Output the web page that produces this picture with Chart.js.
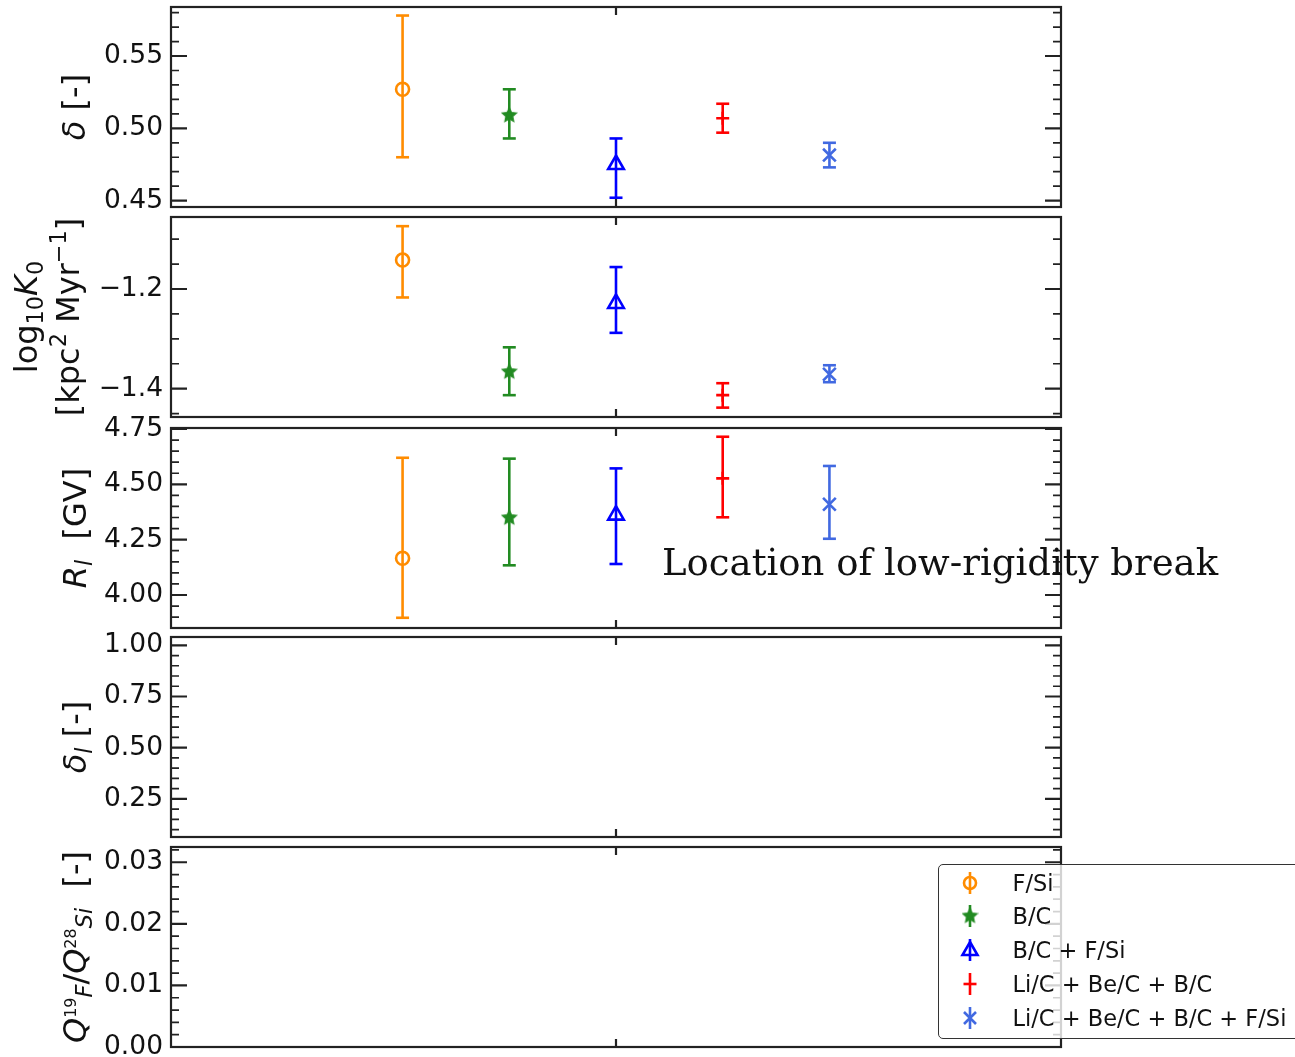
<!DOCTYPE html>
<html>
<head>
<meta charset="utf-8">
<title>Propagation parameters</title>
<script src="https://cdn.jsdelivr.net/npm/chart.js@4.4.1/dist/chart.umd.min.js"></script>
<style>
  html, body { margin: 0; padding: 0; background: #fff; }
  #wrap { position: relative; width: 1295px; height: 1057px; overflow: hidden; }
  #wrap canvas.panel { position: absolute; left: 0; }
  #note { position: absolute; left: 662px; top: 544px; font: 37px/37px 'DejaVu Serif'; color: #111; white-space: nowrap; }
  #legend { position: absolute; left: 938px; top: 864px; width: 420px; height: 175px; box-sizing: border-box;
            border: 1.5px solid #333; border-radius: 5px; background: rgba(255,255,255,0.8); }
  .lg-row { position: absolute; left: 0; height: 30px; width: 400px; }
  .lg-row canvas { position: absolute; top: 0; }
  .lg-row span { position: absolute; top: 0; font: 22.5px/30px 'DejaVu Sans'; white-space: nowrap; color: #111; }
</style>
</head>
<body>
<div id="wrap">
  <canvas class="panel" id="deltaChart" width="1295" height="248"></canvas>
  <canvas class="panel" id="k0Chart" width="1295" height="248"></canvas>
  <canvas class="panel" id="rBreakChart" width="1295" height="248"></canvas>
  <canvas class="panel" id="deltaLowChart" width="1295" height="248"></canvas>
  <canvas class="panel" id="qRatioChart" width="1295" height="248"></canvas>
  <div id="note">Location of low-rigidity break</div>
  <div id="legend"></div>
</div>
<script>
// 資料集名稱與顏色
const seriesNames = ['F/Si', 'B/C', 'B/C + F/Si', 'Li/C + Be/C + B/C', 'Li/C + Be/C + B/C + F/Si'];
const seriesColors = ['darkorange', 'forestgreen', 'blue', 'red', 'royalblue'];
const xPos = [0, 1, 2, 3, 4];
const xTicks = [2];

// delta
const delta = [0.527, 0.509, 0.475, 0.507, 0.4815];
const deltaLo = [0.480, 0.493, 0.452, 0.497, 0.473];
const deltaHi = [0.578, 0.527, 0.493, 0.517, 0.490];
const deltaTicks = [0.45, 0.50, 0.55];

// log10 K0
const logK0 = [-1.142, -1.366, -1.229, -1.413, -1.371];
const logK0Lo = [-1.217, -1.413, -1.288, -1.438, -1.387];
const logK0Hi = [-1.074, -1.317, -1.156, -1.389, -1.353];
const logK0Ticks = [-1.4, -1.2];

// R_l
const rBreak = [4.166, 4.349, 4.361, 4.527, 4.410];
const rBreakLo = [3.897, 4.134, 4.140, 4.351, 4.254];
const rBreakHi = [4.620, 4.616, 4.572, 4.715, 4.583];
const rBreakTicks = [4.00, 4.25, 4.50, 4.75];

// delta_l 與 Q 比值 (無資料點)
const deltaLowTicks = [0.25, 0.50, 0.75, 1.00];
const qRatioTicks = [0.00, 0.01, 0.02, 0.03];

const TICK_FONT = 26.5;
const TITLE_FONT = 32;
const LINE_W = 2.6;

// 星形標記
function makeStar(color, r) {
    const c = document.createElement('canvas');
    const s = Math.ceil(r * 2 + 2);
    c.width = c.height = s;
    const g = c.getContext('2d');
    g.fillStyle = color;
    g.strokeStyle = color;
    g.lineWidth = 1.2;
    g.beginPath();
    for (let k = 0; k < 10; k++) {
        const a = -Math.PI / 2 + k * Math.PI / 5;
        const rr = k % 2 ? r * 0.48 : r;
        g.lineTo(s / 2 + rr * Math.cos(a), s / 2 + rr * Math.sin(a));
    }
    g.closePath();
    g.fill();
    g.stroke();
    return c;
}
const starImg = makeStar('forestgreen', 7.5);

const markerStyles = ['circle', starImg, 'triangle', 'cross', 'crossRot'];
const markerRadii = [6.5, 7, 9, 6.5, 9];

// 外框與內向刻度
const frameTicks = {
    id: 'frameTicks',
    afterDatasetsDraw(chart, args, opts) {
        const { ctx, chartArea: a, scales: { x, y } } = chart;
        const inside = (py) => py >= a.top - 0.5 && py <= a.bottom + 0.5;
        ctx.save();
        ctx.strokeStyle = '#222';
        ctx.lineWidth = 1.7;
        ctx.beginPath();
        opts.minor.forEach(v => {
            const py = y.getPixelForValue(v);
            if (!inside(py)) return;
            ctx.moveTo(a.left, py); ctx.lineTo(a.left + 8, py);
            ctx.moveTo(a.right, py); ctx.lineTo(a.right - 8, py);
        });
        ctx.stroke();
        ctx.lineWidth = 2.2;
        ctx.beginPath();
        opts.major.forEach(v => {
            const py = y.getPixelForValue(v);
            if (!inside(py)) return;
            ctx.moveTo(a.left, py); ctx.lineTo(a.left + 16, py);
            ctx.moveTo(a.right, py); ctx.lineTo(a.right - 16, py);
        });
        xTicks.forEach(v => {
            const px = x.getPixelForValue(v);
            ctx.moveTo(px, a.top); ctx.lineTo(px, a.top + 8);
            ctx.moveTo(px, a.bottom); ctx.lineTo(px, a.bottom - 8);
        });
        ctx.stroke();
        ctx.lineWidth = 2.2;
        ctx.strokeRect(a.left, a.top, a.right - a.left, a.bottom - a.top);
        ctx.restore();
    }
};

// 直式 y 軸標題 (含上下標)
const yTitle = {
    id: 'yTitle',
    afterDraw(chart, args, opts) {
        const { ctx, chartArea: a } = chart;
        const cy = (a.top + a.bottom) / 2;
        opts.lines.forEach((segs, li) => {
            ctx.save();
            ctx.translate(opts.base[li], cy);
            ctx.rotate(-Math.PI / 2);
            ctx.fillStyle = '#111';
            ctx.textBaseline = 'alphabetic';
            let total = 0;
            segs.forEach(s => {
                ctx.font = (s.it ? 'italic ' : '') + (TITLE_FONT * (s.sc || 1)).toFixed(1) + 'px "DejaVu Sans"';
                s.w = ctx.measureText(s.t).width;
                total += s.w;
            });
            let px = -total / 2;
            segs.forEach(s => {
                ctx.font = (s.it ? 'italic ' : '') + (TITLE_FONT * (s.sc || 1)).toFixed(1) + 'px "DejaVu Sans"';
                ctx.fillText(s.t, px, (s.dy || 0) * TITLE_FONT);
                px += s.w;
            });
            ctx.restore();
        });
    }
};

function minorTicks(min, max, step, major) {
    const out = [];
    for (let k = Math.ceil(min / step - 1e-9); k * step <= max + 1e-9; k++) {
        const v = k * step;
        if (!major.some(m => Math.abs(m - v) < step / 10)) out.push(v);
    }
    return out;
}

function buildDatasets(vals, lo, hi) {
    const sets = [];
    if (!vals) return [{ data: [] }];
    vals.forEach((v, i) => {
        sets.push({
            label: seriesNames[i],
            data: [{ x: xPos[i], y: v }],
            order: 0,
            showLine: false,
            pointStyle: markerStyles[i],
            pointRadius: markerRadii[i],
            pointBorderWidth: LINE_W,
            borderColor: seriesColors[i],
            backgroundColor: 'rgba(0,0,0,0)'
        });
        sets.push({
            label: seriesNames[i] + ' err',
            data: [{ x: xPos[i], y: lo[i] }, { x: xPos[i], y: hi[i] }],
            order: 1,
            showLine: true,
            borderColor: seriesColors[i],
            borderWidth: LINE_W,
            pointStyle: 'line',
            pointRadius: 6.5,
            pointBorderWidth: LINE_W,
            pointBorderColor: seriesColors[i]
        });
    });
    return sets;
}

const panels = [
    { id: 'deltaChart', top: 7, min: 0.4456, max: 0.5839, ticks: deltaTicks, minorStep: 0.01, digits: 2,
      vals: delta, lo: deltaLo, hi: deltaHi, base: [85],
      title: [[{ t: 'δ', it: true }, { t: ' [-]' }]] },
    { id: 'k0Chart', top: 217, min: -1.4568, max: -1.0556, ticks: logK0Ticks, minorStep: 0.05, digits: 1,
      vals: logK0, lo: logK0Lo, hi: logK0Hi, base: [37, 79],
      title: [
          [{ t: 'log' }, { t: '10', sc: 0.7, dy: 0.2 }, { t: 'K', it: true }, { t: '0', sc: 0.7, dy: 0.2 }],
          [{ t: '[kpc' }, { t: '2', sc: 0.7, dy: -0.4 }, { t: ' Myr' }, { t: '\u22121', sc: 0.7, dy: -0.4 }, { t: ']' }]
      ] },
    { id: 'rBreakChart', top: 428, min: 3.8508, max: 4.7545, ticks: rBreakTicks, minorStep: 0.05, digits: 2,
      vals: rBreak, lo: rBreakLo, hi: rBreakHi, base: [86],
      title: [[{ t: 'R', it: true }, { t: 'l', it: true, sc: 0.7, dy: 0.2 }, { t: '  [GV]' }]] },
    { id: 'deltaLowChart', top: 637, min: 0.0639, max: 1.0405, ticks: deltaLowTicks, minorStep: 0.05, digits: 2,
      vals: null, base: [86],
      title: [[{ t: 'δ', it: true }, { t: 'l', it: true, sc: 0.7, dy: 0.2 }, { t: ' [-]' }]] },
    { id: 'qRatioChart', top: 847, min: 0.0, max: 0.03248, ticks: qRatioTicks, minorStep: 0.002, digits: 2,
      vals: null, base: [86],
      title: [[{ t: 'Q', it: true }, { t: '19', sc: 0.5, dy: -0.3 }, { t: 'F', it: true, sc: 0.7, dy: 0.2 },
               { t: '/' }, { t: 'Q', it: true }, { t: '28', sc: 0.5, dy: -0.3 }, { t: 'Si', it: true, sc: 0.7, dy: 0.2 },
               { t: '  [-]' }]] }
];

panels.forEach(p => {
    const canvas = document.getElementById(p.id);
    canvas.style.top = (p.top - 24) + 'px';
    new Chart(canvas.getContext('2d'), {
        type: 'scatter',
        data: { datasets: buildDatasets(p.vals, p.lo, p.hi) },
        options: {
            responsive: false,
            animation: false,
            events: [],
            layout: { padding: { left: 0, right: 234, top: 24, bottom: 24 } },
            plugins: {
                legend: { display: false },
                tooltip: { enabled: false },
                frameTicks: { major: p.ticks, minor: minorTicks(p.min, p.max, p.minorStep, p.ticks) },
                yTitle: { lines: p.title, base: p.base }
            },
            scales: {
                x: { type: 'linear', min: -2.17, max: 6.17, display: false },
                y: {
                    type: 'linear',
                    min: p.min,
                    max: p.max,
                    grid: { display: false, drawTicks: false },
                    border: { display: false },
                    afterBuildTicks: (scale) => { scale.ticks = p.ticks.map(v => ({ value: v })); },
                    afterFit: (scale) => { scale.width = 171; },
                    ticks: {
                        padding: 8,
                        color: '#111',
                        autoSkip: false,
                        font: { family: 'DejaVu Sans', size: TICK_FONT },
                        callback: (v) => Number(v).toFixed(p.digits).replace('-', '\u2212')
                    }
                }
            }
        },
        plugins: [frameTicks, yTitle]
    });
});

// 圖例
function drawLegendMarker(g, i, cx, cy) {
    const c = seriesColors[i];
    g.strokeStyle = c;
    g.fillStyle = c;
    g.lineWidth = 2.6;
    g.beginPath();
    g.moveTo(cx, cy - 11); g.lineTo(cx, cy + 11);
    g.stroke();
    g.beginPath();
    if (i === 0) {
        g.arc(cx, cy, 6, 0, Math.PI * 2);
        g.stroke();
    } else if (i === 1) {
        g.drawImage(starImg, cx - starImg.width / 2, cy - starImg.height / 2);
    } else if (i === 2) {
        g.moveTo(cx, cy - 8); g.lineTo(cx + 7.5, cy + 5); g.lineTo(cx - 7.5, cy + 5); g.closePath();
        g.stroke();
    } else if (i === 3) {
        g.moveTo(cx - 6.5, cy); g.lineTo(cx + 6.5, cy);
        g.stroke();
    } else {
        g.moveTo(cx - 6, cy - 6); g.lineTo(cx + 6, cy + 6);
        g.moveTo(cx + 6, cy - 6); g.lineTo(cx - 6, cy + 6);
        g.stroke();
    }
}

const legendRowY = [883, 916, 950, 984, 1018];
const legend = document.getElementById('legend');
seriesNames.forEach((name, i) => {
    const row = document.createElement('div');
    row.className = 'lg-row';
    row.style.top = (legendRowY[i] - 865.5 - 15) + 'px';
    const mc = document.createElement('canvas');
    mc.width = 30; mc.height = 30;
    mc.style.left = (970 - 939.5 - 15) + 'px';
    drawLegendMarker(mc.getContext('2d'), i, 15, 15);
    const sp = document.createElement('span');
    sp.style.left = (1013 - 939.5) + 'px';
    sp.textContent = name;
    row.appendChild(mc);
    row.appendChild(sp);
    legend.appendChild(row);
});
</script>
</body>
</html>
